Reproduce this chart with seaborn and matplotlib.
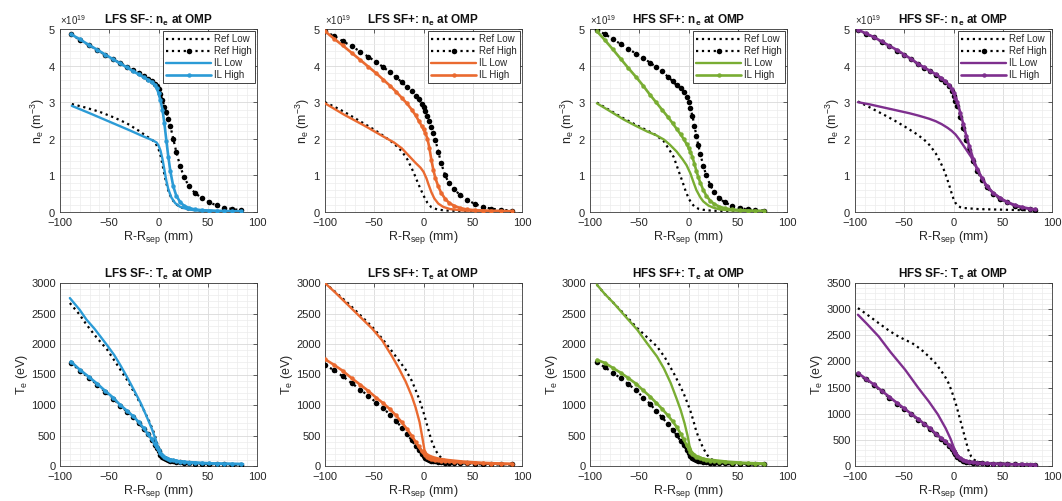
import numpy as np
import matplotlib
matplotlib.use("Agg")
import matplotlib.pyplot as plt
import seaborn as sns
from matplotlib.ticker import MultipleLocator, ScalarFormatter
from matplotlib.lines import Line2D

# ---------------------------------------------------------------- data
cases = ["LFS SF-", "LFS SF+", "HFS SF+", "HFS SF-"]
case_colors = ["#2b9bd6", "#ea6a30", "#79ad33", "#7e2f8e"]
series_labels = ["Ref Low", "Ref High", "IL Low", "IL High"]

# radial grids (mm) of the high-density runs
x_lfs_m = [-89, -80, -71, -62, -54, -46, -39, -32, -26, -20, -15, -11, -7, -4, -2, 0, 2, 4, 6, 8,
           10, 12, 15, 18, 22, 26, 31, 37, 44, 51, 59, 67, 75, 84]
x_lfs_p = [-100, -91, -82, -73, -64, -56, -48, -41, -34, -28, -22, -17, -12, -8, -5, -2, 0, 2, 4, 6,
           8, 10, 12, 15, 18, 22, 26, 31, 37, 44, 52, 60, 69, 79, 90]
x_hfs_p = [-93, -85, -77, -69, -61, -53, -46, -39, -33, -27, -21, -16, -12, -8, -5, -2, 0, 2, 4, 6,
           8, 10, 12, 15, 18, 22, 26, 31, 37, 44, 52, 60, 68, 77]
x_hfs_m = [-97, -89, -81, -73, -65, -57, -50, -43, -36, -30, -24, -18, -13, -9, -5, -2, 0, 2, 4, 7,
           10, 13, 16, 20, 24, 29, 34, 40, 47, 54, 62, 70, 78, 83]

# ---- n_e at OMP (1e19 m^-3)
ne1_il_high = [4.86, 4.72, 4.57, 4.43, 4.30, 4.17, 4.06, 3.95, 3.85, 3.76, 3.68, 3.62, 3.55, 3.48, 3.40,
               3.25, 3.05, 2.80, 2.42, 1.95, 1.50, 1.12, 0.70, 0.45, 0.27, 0.17, 0.11, 0.07, 0.05, 0.04,
               0.03, 0.03, 0.02, 0.02]
ne1_ref_high = [4.85, 4.71, 4.56, 4.42, 4.29, 4.17, 4.07, 3.97, 3.88, 3.79, 3.71, 3.64, 3.57, 3.50, 3.45,
                3.36, 3.22, 3.05, 2.88, 2.72, 2.55, 2.35, 2.00, 1.65, 1.25, 0.95, 0.70, 0.52, 0.38, 0.27,
                0.18, 0.12, 0.08, 0.05]
ne1_il_low_x = [-88, -70, -50, -30, -15, -6, -2, 0, 2, 4, 6, 8, 10, 13, 17, 22, 30, 40, 55, 70, 84]
ne1_il_low = [2.90, 2.70, 2.47, 2.24, 2.06, 1.96, 1.90, 1.82, 1.68, 1.45, 1.15, 0.85, 0.62, 0.40, 0.24,
              0.14, 0.07, 0.04, 0.03, 0.02, 0.02]
ne1_ref_low_x = [-88, -75, -60, -45, -32, -20, -12, -6, -3, 0, 2, 4, 6, 8, 10, 13, 17, 22, 30, 40, 55, 70, 84]
ne1_ref_low = [2.95, 2.86, 2.74, 2.58, 2.42, 2.22, 2.07, 1.96, 1.88, 1.72, 1.55, 1.30, 1.02, 0.78, 0.58,
               0.38, 0.23, 0.13, 0.07, 0.04, 0.03, 0.02, 0.02]

ne2_il_high = [4.94, 4.74, 4.55, 4.35, 4.15, 3.97, 3.79, 3.62, 3.45, 3.29, 3.12, 2.97, 2.80, 2.64, 2.50,
               2.36, 2.26, 2.15, 2.00, 1.75, 1.42, 1.15, 0.93, 0.70, 0.52, 0.36, 0.25, 0.17, 0.11, 0.07,
               0.05, 0.04, 0.03, 0.03, 0.02]
ne2_ref_high = [4.94, 4.81, 4.67, 4.53, 4.38, 4.24, 4.10, 3.96, 3.82, 3.68, 3.55, 3.42, 3.30, 3.18, 3.08,
                2.96, 2.87, 2.76, 2.62, 2.48, 2.33, 2.17, 1.98, 1.65, 1.33, 1.00, 0.78, 0.62, 0.47, 0.34,
                0.22, 0.14, 0.09, 0.06, 0.04]
ne2_il_low_x = [-100, -80, -60, -40, -30, -22, -15, -8, -3, 0, 3, 5, 8, 11, 15, 20, 27, 40, 60, 90]
ne2_il_low = [2.97, 2.65, 2.36, 2.05, 1.90, 1.74, 1.54, 1.34, 1.21, 1.10, 0.92, 0.76, 0.54, 0.37, 0.23,
              0.14, 0.08, 0.04, 0.03, 0.02]
ne2_ref_low_x = [-100, -90, -80, -70, -60, -50, -40, -30, -22, -16, -10, -5, 0, 4, 8, 14, 22, 35, 50, 70, 90]
ne2_ref_low = [3.00, 2.87, 2.73, 2.57, 2.41, 2.25, 2.07, 1.87, 1.66, 1.42, 1.08, 0.75, 0.45, 0.25, 0.13,
               0.07, 0.04, 0.03, 0.02, 0.02, 0.02]

ne3_il_high = [4.94, 4.70, 4.45, 4.19, 3.93, 3.68, 3.45, 3.20, 3.00, 2.80, 2.60, 2.42, 2.27, 2.12, 2.00,
               1.86, 1.76, 1.64, 1.50, 1.32, 1.12, 0.95, 0.80, 0.60, 0.45, 0.31, 0.22, 0.15, 0.10, 0.07,
               0.05, 0.04, 0.03, 0.03]
ne3_ref_high = [4.98, 4.86, 4.73, 4.59, 4.46, 4.32, 4.21, 4.08, 3.96, 3.84, 3.70, 3.57, 3.46, 3.38, 3.28,
                3.14, 3.00, 2.83, 2.62, 2.36, 2.08, 1.82, 1.58, 1.27, 1.00, 0.74, 0.55, 0.38, 0.26, 0.17,
                0.11, 0.07, 0.05, 0.04]
ne3_il_low_x = [-93, -80, -66, -54, -42, -33, -25, -19, -12, -6, -2, 2, 5, 8, 12, 15, 20, 25, 32, 40, 55, 77]
ne3_il_low = [2.97, 2.76, 2.53, 2.36, 2.20, 2.10, 1.98, 1.84, 1.65, 1.44, 1.28, 1.05, 0.82, 0.60, 0.40,
              0.29, 0.18, 0.12, 0.07, 0.05, 0.03, 0.03]
ne3_ref_low_x = [-93, -80, -66, -54, -42, -33, -25, -19, -15, -10, -6, -3, 0, 3, 6, 10, 15, 22, 30, 40, 55, 77]
ne3_ref_low = [2.99, 2.78, 2.56, 2.39, 2.23, 2.10, 1.93, 1.68, 1.50, 1.12, 0.82, 0.58, 0.38, 0.24, 0.15,
               0.09, 0.06, 0.04, 0.03, 0.03, 0.02, 0.02]

ne4_il_high = [4.98, 4.88, 4.78, 4.66, 4.54, 4.42, 4.30, 4.18, 4.05, 3.95, 3.86, 3.76, 3.67, 3.58, 3.48,
               3.37, 3.25, 3.12, 3.00, 2.70, 2.40, 2.08, 1.80, 1.45, 1.18, 0.92, 0.70, 0.52, 0.39, 0.28,
               0.19, 0.13, 0.09, 0.07]
ne4_ref_high = [4.97, 4.87, 4.77, 4.65, 4.53, 4.41, 4.29, 4.17, 4.04, 3.93, 3.84, 3.73, 3.63, 3.54, 3.43,
                3.31, 3.18, 3.04, 2.90, 2.60, 2.30, 1.98, 1.70, 1.38, 1.12, 0.88, 0.67, 0.49, 0.36, 0.26,
                0.17, 0.11, 0.07, 0.05]
ne4_il_low_x = [-97, -85, -75, -65, -55, -45, -35, -25, -18, -12, -6, -2, 2, 6, 10, 14, 18, 22, 27, 32,
                40, 50, 60, 70, 80]
ne4_il_low = [3.00, 2.94, 2.88, 2.82, 2.76, 2.70, 2.63, 2.55, 2.48, 2.40, 2.30, 2.22, 2.12, 1.98, 1.82,
              1.66, 1.50, 1.28, 1.02, 0.78, 0.53, 0.33, 0.20, 0.12, 0.07]
ne4_ref_low_x = [-97, -88, -78, -68, -58, -48, -38, -30, -24, -18, -14, -10, -7, -4, -2, 0, 2, 4, 7, 10,
                 15, 25, 40, 55, 70, 80]
ne4_ref_low = [3.02, 2.90, 2.76, 2.62, 2.47, 2.31, 2.14, 1.98, 1.82, 1.60, 1.40, 1.17, 0.95, 0.70, 0.52,
               0.36, 0.25, 0.18, 0.13, 0.11, 0.10, 0.08, 0.07, 0.06, 0.05, 0.05]

# ---- T_e at OMP (eV)
te1_il_high = [1713, 1580, 1465, 1345, 1230, 1120, 1002, 905, 820, 720, 618, 530, 440, 365, 310, 255, 205,
               175, 150, 130, 115, 105, 92, 82, 72, 64, 57, 50, 45, 41, 38, 35, 33, 31]
te1_ref_high = [1695, 1565, 1450, 1330, 1215, 1105, 990, 893, 808, 708, 605, 517, 428, 352, 295, 238, 188,
                155, 130, 110, 96, 86, 75, 66, 58, 52, 46, 40, 36, 32, 28, 25, 22, 20]
te1_il_low_x = [-90, -80, -73, -65, -59, -52, -45, -39, -32, -25, -18, -12, -7, -3, 0, 2, 5, 9, 14, 20,
                30, 42, 60, 86]
te1_il_low = [2753, 2560, 2397, 2250, 2124, 1975, 1820, 1660, 1460, 1248, 1030, 810, 620, 440, 280, 200,
              150, 120, 100, 82, 67, 55, 42, 33]
te1_ref_low_x = [-90, -80, -73, -63, -52, -42, -32, -23, -15, -9, -4, -1, 1, 4, 8, 14, 20, 29, 40, 55, 70, 86]
te1_ref_low = [2671, 2480, 2315, 2110, 1905, 1660, 1412, 1160, 920, 720, 520, 350, 240, 170, 126, 95, 75,
               55, 42, 33, 28, 25]

te2_il_high = [1750, 1660, 1560, 1440, 1330, 1230, 1120, 1030, 930, 830, 715, 610, 495, 395, 320, 245, 210,
               175, 150, 135, 122, 112, 104, 95, 88, 80, 74, 67, 60, 54, 48, 44, 40, 36, 33]
te2_ref_high = [1658, 1570, 1470, 1360, 1250, 1150, 1040, 950, 840, 740, 630, 530, 420, 330, 260, 195, 160,
                130, 110, 97, 88, 80, 74, 68, 62, 57, 53, 49, 45, 42, 39, 36, 34, 31, 29]
te2_il_low_x = [-100, -90, -76, -64, -52, -42, -32, -25, -18, -12, -8, -4, -1, 1, 3, 6, 10, 16, 25, 40, 59, 90]
te2_il_low = [3000, 2850, 2630, 2440, 2250, 2060, 1800, 1600, 1380, 1150, 960, 720, 450, 260, 200, 170,
              145, 120, 99, 75, 55, 35]
te2_ref_low_x = [-100, -90, -76, -64, -52, -42, -32, -25, -18, -12, -8, -4, 0, 4, 8, 12, 16, 20, 25, 30,
                 40, 50, 60, 75, 90]
te2_ref_low = [3000, 2860, 2660, 2470, 2280, 2090, 1880, 1730, 1576, 1400, 1248, 1080, 880, 650, 420, 263,
               165, 110, 75, 55, 40, 32, 28, 25, 22]

te3_il_high = [1740, 1690, 1610, 1530, 1440, 1345, 1240, 1138, 1040, 940, 830, 730, 640, 530, 440, 345, 285,
               235, 200, 175, 155, 140, 126, 112, 100, 90, 80, 71, 62, 54, 47, 42, 37, 33]
te3_ref_high = [1700, 1620, 1530, 1440, 1340, 1240, 1120, 1020, 900, 800, 690, 590, 505, 410, 340, 265, 215,
                170, 135, 110, 95, 84, 76, 68, 62, 56, 52, 48, 44, 40, 37, 34, 31, 29]
te3_il_low_x = [-93, -85, -76, -64, -52, -42, -32, -25, -18, -12, -8, -4, -1, 1, 3, 7, 12, 18, 25, 40, 55, 77]
te3_il_low = [2972, 2820, 2671, 2450, 2233, 2010, 1795, 1600, 1357, 1100, 920, 700, 500, 330, 240, 170,
              135, 112, 99, 72, 55, 42]
te3_ref_low_x = [-93, -85, -76, -64, -52, -42, -32, -24, -15, -9, -5, -1, 2, 5, 8, 12, 15, 19, 22, 27,
                 32, 40, 55, 77]
te3_ref_low = [2972, 2820, 2671, 2470, 2260, 2110, 1960, 1780, 1522, 1330, 1193, 1030, 900, 740, 564, 400,
               290, 180, 126, 75, 44, 30, 25, 22]

te4_il_high = [1775, 1670, 1560, 1440, 1320, 1200, 1100, 1000, 900, 810, 720, 620, 540, 480, 410, 340, 290,
               240, 195, 150, 115, 95, 83, 72, 63, 55, 49, 44, 40, 36, 33, 30, 27, 26]
te4_ref_high = [1760, 1655, 1545, 1425, 1305, 1185, 1085, 985, 885, 795, 705, 605, 525, 462, 392, 322, 272,
                222, 180, 138, 105, 86, 75, 65, 57, 50, 45, 40, 36, 33, 30, 27, 25, 24]
te4_il_low_x = [-97, -88, -76, -64, -49, -36, -25, -16, -8, -3, 0, 3, 6, 9, 12, 18, 29, 45, 60, 80]
te4_il_low = [2893, 2720, 2478, 2180, 1839, 1500, 1232, 990, 722, 520, 370, 240, 160, 110, 83, 65, 51, 40,
              34, 30]
te4_ref_low_x = [-97, -88, -76, -67, -59, -50, -42, -33, -25, -18, -12, -8, -5, -2, 0, 3, 5, 8, 10, 13,
                 15, 18, 21, 24, 30, 42, 60, 80]
te4_ref_low = [3020, 2900, 2733, 2610, 2510, 2420, 2350, 2230, 2094, 1960, 1807, 1690, 1584, 1440, 1328,
               1150, 1009, 800, 658, 450, 307, 180, 120, 83, 60, 51, 45, 40]

te_ylim_top = [3000, 3000, 3000, 3500]

# ---------------------------------------------------------------- style
sns.set_theme(style="white")
plt.rcParams["font.family"] = ["Liberation Sans", "DejaVu Sans"]
plt.rcParams["mathtext.fontset"] = "custom"
plt.rcParams["mathtext.rm"] = "Liberation Sans"
plt.rcParams["mathtext.it"] = "Liberation Sans"
plt.rcParams["mathtext.bf"] = "Liberation Sans:bold"

TXT = "#262626"
REF_MS, IL_MS = 4.0, 3.2

ne_sets = [
    (x_lfs_m, ne1_ref_high, ne1_il_high, ne1_il_low_x, ne1_il_low, ne1_ref_low_x, ne1_ref_low),
    (x_lfs_p, ne2_ref_high, ne2_il_high, ne2_il_low_x, ne2_il_low, ne2_ref_low_x, ne2_ref_low),
    (x_hfs_p, ne3_ref_high, ne3_il_high, ne3_il_low_x, ne3_il_low, ne3_ref_low_x, ne3_ref_low),
    (x_hfs_m, ne4_ref_high, ne4_il_high, ne4_il_low_x, ne4_il_low, ne4_ref_low_x, ne4_ref_low),
]
te_sets = [
    (x_lfs_m, te1_ref_high, te1_il_high, te1_il_low_x, te1_il_low, te1_ref_low_x, te1_ref_low),
    (x_lfs_p, te2_ref_high, te2_il_high, te2_il_low_x, te2_il_low, te2_ref_low_x, te2_ref_low),
    (x_hfs_p, te3_ref_high, te3_il_high, te3_il_low_x, te3_il_low, te3_ref_low_x, te3_ref_low),
    (x_hfs_m, te4_ref_high, te4_il_high, te4_il_low_x, te4_il_low, te4_ref_low_x, te4_ref_low),
]

fig = plt.figure(figsize=(10.62, 5.01), dpi=100)
lefts = [60, 325, 590, 855]
W, H = 197, 183
row_tops = [29, 283]


def make_axes(left_px, top_px):
    return fig.add_axes([left_px / 1062, (501 - top_px - H) / 501, W / 1062, H / 501])


def draw_profiles(ax, data, color, scale):
    xg, ref_high, il_high, il_low_x, il_low, ref_low_x, ref_low = data
    sc = lambda v: np.asarray(v, dtype=float) * scale
    sns.lineplot(x=ref_low_x, y=sc(ref_low), ax=ax, color="black", linestyle=":",
                 linewidth=1.6, sort=False, estimator=None, zorder=3)
    sns.lineplot(x=xg, y=sc(ref_high), ax=ax, color="black", linestyle=":", linewidth=1.6,
                 marker="o", markersize=REF_MS, markeredgewidth=0, sort=False, estimator=None,
                 zorder=4)
    sns.lineplot(x=il_low_x, y=sc(il_low), ax=ax, color=color, linewidth=1.7,
                 sort=False, estimator=None, zorder=5)
    sns.lineplot(x=xg, y=sc(il_high), ax=ax, color=color, linewidth=1.9, marker="o",
                 markersize=IL_MS, markeredgewidth=0, sort=False, estimator=None, zorder=6)


def style_axes(ax):
    ax.set_xlim(-100, 100)
    ax.xaxis.set_major_locator(MultipleLocator(50))
    ax.xaxis.set_minor_locator(MultipleLocator(10))
    ax.grid(which="major", color="#d9d9d9", linewidth=0.6)
    ax.grid(which="minor", color="#ececec", linewidth=0.5)
    ax.set_axisbelow(True)
    for sp in ax.spines.values():
        sp.set_color("#3a3a3a")
        sp.set_linewidth(0.6)
    ax.tick_params(which="both", direction="in", top=True, right=True, colors=TXT,
                   labelsize=8, width=0.5)
    ax.tick_params(which="major", length=3)
    ax.tick_params(axis="x", which="major", pad=4)
    ax.tick_params(axis="y", which="major", pad=3)
    ax.tick_params(which="minor", length=0)
    ax.set_xlabel(r"R-R$_{sep}$ (mm)", fontsize=9, color=TXT, labelpad=1)


for i, case in enumerate(cases):
    color = case_colors[i]

    # density row
    ax = make_axes(lefts[i], row_tops[0])
    draw_profiles(ax, ne_sets[i], color, 1e19)
    style_axes(ax)
    ax.set_ylim(0, 5e19)
    ax.yaxis.set_major_locator(MultipleLocator(1e19))
    ax.yaxis.set_minor_locator(MultipleLocator(0.2e19))
    fmt = ScalarFormatter(useMathText=True)
    fmt.set_powerlimits((0, 0))
    ax.yaxis.set_major_formatter(fmt)
    ax.yaxis.get_offset_text().set_fontsize(7)
    ax.yaxis.get_offset_text().set_color(TXT)
    ax.set_ylabel(r"n$_e$ (m$^{-3}$)", fontsize=9, color=TXT, labelpad=1)
    ax.set_title(case + r": n$_\mathbf{e}$ at OMP", fontsize=8.5, fontweight="bold",
                 color="#111111", pad=4)
    handles = [
        Line2D([], [], color="black", linestyle=":", linewidth=1.6),
        Line2D([], [], color="black", linestyle=":", linewidth=1.6, marker="o",
               markersize=REF_MS, markeredgewidth=0),
        Line2D([], [], color=color, linewidth=1.7),
        Line2D([], [], color=color, linewidth=1.9, marker="o", markersize=IL_MS,
               markeredgewidth=0),
    ]
    leg = ax.legend(handles, series_labels, loc="upper right", fontsize=7,
                    handlelength=4.6, handletextpad=0.3, labelspacing=0.2,
                    borderpad=0.3, borderaxespad=0.25, fancybox=False, framealpha=1)
    leg.get_frame().set_edgecolor("#222222")
    leg.get_frame().set_linewidth(0.6)
    for t in leg.get_texts():
        t.set_color(TXT)

    # temperature row
    ax = make_axes(lefts[i], row_tops[1])
    draw_profiles(ax, te_sets[i], color, 1.0)
    style_axes(ax)
    ax.set_ylim(0, te_ylim_top[i])
    ax.yaxis.set_major_locator(MultipleLocator(500))
    ax.yaxis.set_minor_locator(MultipleLocator(100))
    ax.set_ylabel(r"T$_e$ (eV)", fontsize=9, color=TXT, labelpad=1)
    ax.set_title(case + r": T$_\mathbf{e}$ at OMP", fontsize=8.5, fontweight="bold",
                 color="#111111", pad=4)

fig.savefig("out.png", dpi=100, facecolor="white")
